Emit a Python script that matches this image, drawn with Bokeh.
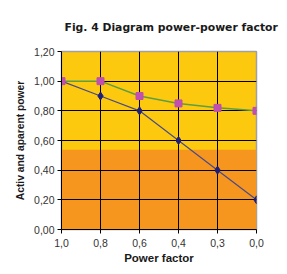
from bokeh.plotting import figure
from bokeh.models import BoxAnnotation, FixedTicker, Range1d
from bokeh.embed import file_html
from bokeh.resources import INLINE

categories = ["1,0", "0,8", "0,6", "0,4", "0,3", "0,0"]
active_power = [1.00, 0.90, 0.80, 0.60, 0.40, 0.20]
apparent_power = [1.00, 1.00, 0.90, 0.85, 0.82, 0.80]
y_ticks = [0.0, 0.2, 0.4, 0.6, 0.8, 1.0, 1.2]
y_tick_labels = ["0,00", "0,20", "0,40", "0,60", "0,80", "1,00", "1,20"]

xs = list(range(len(categories)))

p = figure(width=279, height=266, output_backend="svg", toolbar_location=None,
           x_range=Range1d(0, len(categories) - 1), y_range=Range1d(0, 1.2),
           min_border_left=61, min_border_right=23, min_border_top=51, min_border_bottom=36,
           title="Fig. 4 Diagram power-power factor")

p.title.text_font = "DejaVu Sans"
p.title.text_font_size = "10.8px"
p.title.text_font_style = "bold"
p.title.text_color = "#1a1a1a"
p.title.align = "left"
p.title.offset = 3
p.title.standoff = 35

p.background_fill_color = "#FCC90F"
p.border_fill_color = "white"
p.outline_line_color = "#A0A0A0"
p.outline_line_width = 1.5

p.add_layout(BoxAnnotation(bottom=0, top=0.537, fill_color="#F7961E", fill_alpha=1.0,
                           line_color=None, level="image"))

p.xgrid.ticker = FixedTicker(ticks=xs)
p.xgrid.grid_line_color = "black"
p.xgrid.grid_line_width = 1
p.ygrid.grid_line_color = "black"
p.ygrid.grid_line_width = 1

p.line(xs, apparent_power, line_color="#5E9E45", line_width=1.5)
p.line(xs, active_power, line_color="#4A4A8A", line_width=1.2)
p.scatter(xs, active_power, marker="diamond", size=8, fill_color="#1E1E78", line_color="#1E1E78")
p.scatter(xs, apparent_power, marker="square", size=7, fill_color="#C04FB0", line_color="#C04FB0")

p.xaxis.ticker = FixedTicker(ticks=xs)
p.xaxis.major_label_overrides = {i: c for i, c in zip(xs, categories)}
p.yaxis.ticker = FixedTicker(ticks=y_ticks)
p.yaxis.major_label_overrides = {t: l for t, l in zip(y_ticks, y_tick_labels)}

for ax in (p.xaxis[0], p.yaxis[0]):
    ax.axis_line_color = "black"
    ax.major_tick_line_color = "black"
    ax.major_tick_in = 0
    ax.major_tick_out = 4
    ax.minor_tick_line_color = None
    ax.major_label_text_font = "Liberation Sans"
    ax.major_label_text_font_size = "10.5px"
    ax.major_label_text_color = "#333333"
    ax.axis_label_text_font = "Liberation Sans"
    ax.axis_label_text_font_style = "bold"
    ax.axis_label_text_color = "#1a1a1a"

p.xaxis.axis_label = "Power factor"
p.xaxis.axis_label_text_font_size = "11.5px"
p.xaxis.major_label_standoff = 5
p.xaxis.axis_label_standoff = 2
p.yaxis.axis_label = "Activ and aparent power"
p.yaxis.axis_label_text_font_size = "10.3px"
p.yaxis.major_label_standoff = 3
p.yaxis.axis_label_standoff = 5

open("out.html", "w").write(file_html(p, INLINE))
